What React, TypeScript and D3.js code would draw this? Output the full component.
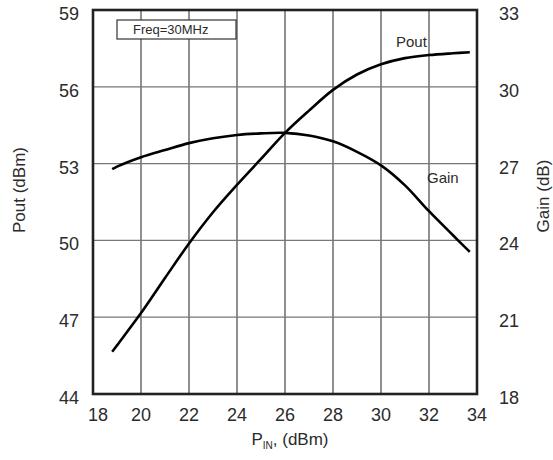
import React from 'react';
import * as d3 from 'd3';

const pin = [18.8, 19, 20, 21, 22, 23, 24, 25, 26, 27, 28, 29, 30, 31, 32, 33, 33.7];
const pout = [45.65, 45.9, 47.16, 48.53, 49.88, 51.1, 52.17, 53.18, 54.2, 55.07, 55.88, 56.48, 56.88, 57.12, 57.24, 57.31, 57.35];
const gain = [26.78, 26.88, 27.25, 27.53, 27.8, 27.99, 28.12, 28.18, 28.2, 28.1, 27.87, 27.46, 26.93, 26.15, 25.14, 24.2, 23.55];

const xTicks = [18, 20, 22, 24, 26, 28, 30, 32, 34];
const leftTicks = [44, 47, 50, 53, 56, 59];
const rightTicks = [18, 21, 24, 27, 30, 33];

const W = 553;
const H = 460;
const margin = { top: 10, right: 76, bottom: 66, left: 93 };
const FONT = 'Arial, "Liberation Sans", Helvetica, sans-serif';
const TXT = '#2b2b2b';

const App: React.FC = () => {
  const iw = W - margin.left - margin.right;
  const ih = H - margin.top - margin.bottom;
  const x = d3.scaleLinear().domain([18, 34]).range([0, iw]);
  const yL = d3.scaleLinear().domain([44, 59]).range([ih, 0]);
  const yR = d3.scaleLinear().domain([18, 33]).range([ih, 0]);

  // both curves share the Pin axis, each on its own y scale
  const poutLine = d3
    .line<number>()
    .x((_, i) => x(pin[i]))
    .y(d => yL(d))
    .curve(d3.curveCatmullRom.alpha(0.5));
  const gainLine = d3
    .line<number>()
    .x((_, i) => x(pin[i]))
    .y(d => yR(d))
    .curve(d3.curveCatmullRom.alpha(0.5));

  return (
    <svg
      width={W}
      height={H}
      style={{ position: 'absolute', left: 0, top: 0, background: '#fff' }}
      fontFamily={FONT}
    >
      <g transform={`translate(${margin.left},${margin.top})`}>
        {/* grid */}
        {xTicks.slice(1, -1).map(t => (
          <line key={'vx' + t} x1={x(t)} x2={x(t)} y1={0} y2={ih} stroke="#222" strokeWidth={1} />
        ))}
        {leftTicks.slice(1, -1).map(t => (
          <line key={'hy' + t} x1={0} x2={iw} y1={yL(t)} y2={yL(t)} stroke="#777" strokeWidth={1.3} />
        ))}
        <rect x={0} y={0} width={iw} height={ih} fill="none" stroke="#222" strokeWidth={2.6} />

        {/* tick labels */}
        {xTicks.map(t => (
          <text
            key={'tx' + t}
            x={x(t) + (t === 18 ? 5 : 0)}
            y={ih + 27}
            textAnchor="middle"
            fontSize={18}
            fill={TXT}
          >
            {t}
          </text>
        ))}
        {leftTicks.map(t => (
          <text key={'tl' + t} x={-14} y={yL(t) + 10} textAnchor="end" fontSize={18} fill={TXT}>
            {t}
          </text>
        ))}
        {rightTicks.map(t => (
          <text key={'tr' + t} x={iw + 22} y={yR(t) + 10} textAnchor="start" fontSize={18} fill={TXT}>
            {t}
          </text>
        ))}

        {/* curves */}
        <path d={poutLine(pout) || ''} fill="none" stroke="#000" strokeWidth={2.6} strokeLinejoin="round" />
        <path d={gainLine(gain) || ''} fill="none" stroke="#000" strokeWidth={2.6} strokeLinejoin="round" />

        {/* annotations */}
        <text x={303} y={37} fontSize={15} fill={TXT}>Pout</text>
        <text x={334} y={173} fontSize={15} fill={TXT}>Gain</text>
        <rect x={24} y={10} width={119} height={19} fill="#fff" stroke="#333" strokeWidth={1.2} />
        <text x={40} y={24} fontSize={13} fill={TXT}>Freq=30MHz</text>
      </g>

      {/* axis titles */}
      <text x={290} y={445} textAnchor="middle" fontSize={17} fill={TXT}>
        P<tspan fontSize={10} dy={4}>IN</tspan>
        <tspan dy={-4}>, (dBm)</tspan>
      </text>
      <text transform="translate(25,190) rotate(-90)" textAnchor="middle" fontSize={17} fill={TXT}>
        Pout (dBm)
      </text>
      <text transform="translate(549,196) rotate(-90)" textAnchor="middle" fontSize={17} fill={TXT}>
        Gain (dB)
      </text>
    </svg>
  );
};

export default App;
